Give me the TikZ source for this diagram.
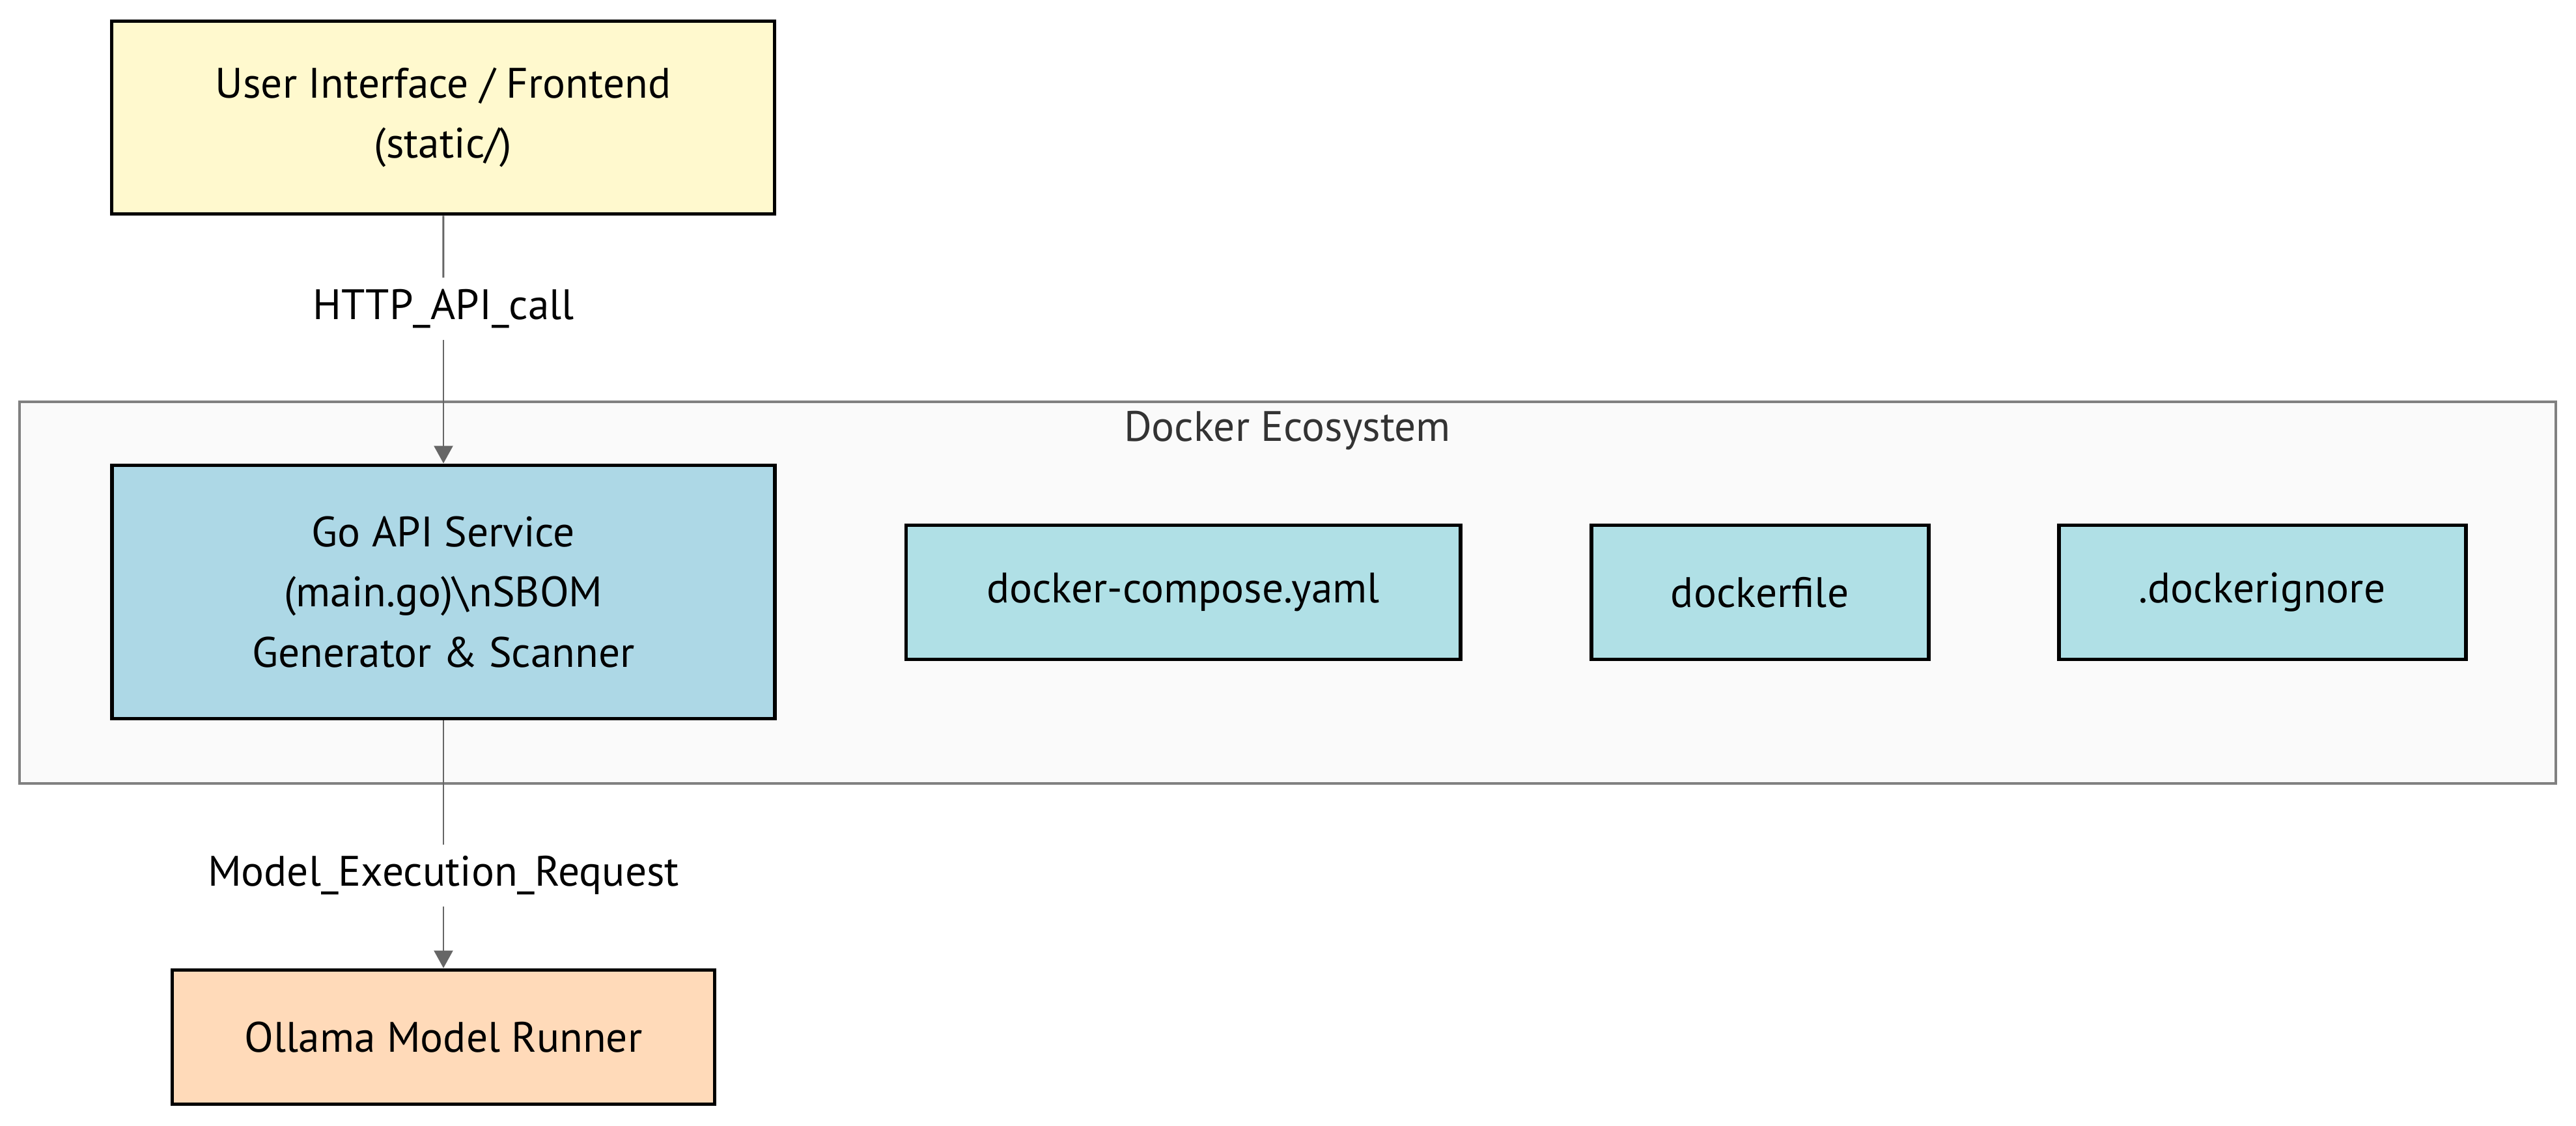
\documentclass[tikz,border=0pt]{standalone}
\usepackage{fontspec}
\setmainfont{PT Sans}
\usetikzlibrary{arrows.meta}

\definecolor{uicol}{HTML}{FFF9CE}
\definecolor{gocol}{HTML}{ADD8E6}
\definecolor{filecol}{HTML}{B0E0E6}
\definecolor{ollamacol}{HTML}{FFDAB9}
\definecolor{clusterfill}{HTML}{FAFAFA}
\definecolor{clusterline}{HTML}{808080}
\definecolor{linkcol}{HTML}{666666}

\begin{document}
\begin{tikzpicture}[
		box/.style={draw=black, line width=1.7pt, align=center, inner sep=0pt, font=\fontsize{18.6}{26.4}\selectfont},
		filebox/.style={box, fill=filecol, minimum height=2.06cm},
		lbl/.style={fill=white, inner sep=0pt, minimum height=0.94cm, font=\fontsize{18.6}{21}\selectfont},
		link/.style={draw=linkcol, line width=0.85pt},
		arrowlink/.style={link, -{Triangle[length=0.27cm, width=0.29cm]}}]
				\useasboundingbox (0,0) rectangle (39.56,17.28);
				% cluster
				\draw[clusterline, fill=clusterfill, line width=0.9pt] (0.30,5.25) rectangle (39.25,11.11);
				\node[text=black!80, font=\fontsize{18.6}{21}\selectfont] (docker) at (19.77,10.67) {Docker Ecosystem};
				% nodes
				\node[box, fill=uicol, minimum width=10.18cm, minimum height=2.96cm] (ui) at (6.805,15.475) {User Interface / Frontend\\(static/)};
				\node[box, fill=gocol, minimum width=10.18cm, minimum height=3.89cm] (go) at (6.81,8.19) {Go API Service\\(main.go)\textbackslash nSBOM\\Generator \& Scanner};
				\node[filebox, minimum width=8.51cm] (compose) at (18.17,8.185) {docker-compose.yaml};
				\node[filebox, minimum width=5.18cm] (dockerfile) at (27.025,8.185) {dockerfile};
				\node[filebox, minimum width=6.25cm] (ignore) at (34.74,8.185) {.dockerignore};
				\node[box, fill=ollamacol, minimum width=8.33cm, minimum height=2.06cm] (ollama) at (6.81,1.355) {Ollama Model Runner};
				% labels
				\node[lbl] (http) at (6.81,12.54) {HTTP\_API\_call};
				\node[lbl] (request) at (6.81,3.835) {Model\_Execution\_Request};
				% links
				\draw[link] (ui) -- (http);
				\draw[arrowlink] (http) -- (go);
				\draw[link] (go) -- (request);
				\draw[arrowlink] (request) -- (ollama);
			\end{tikzpicture}
\end{document}
